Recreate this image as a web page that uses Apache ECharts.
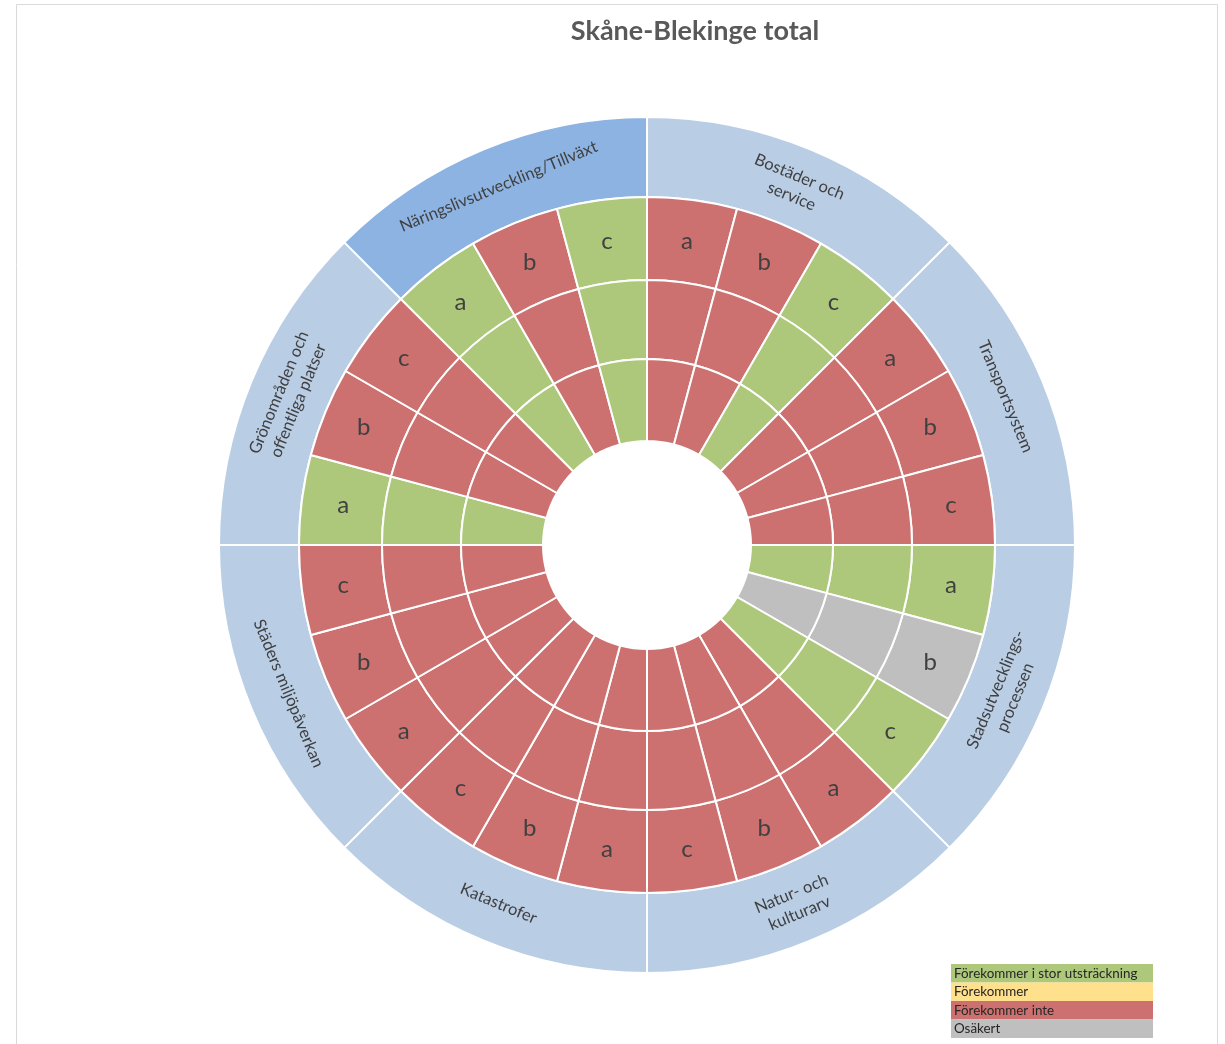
<!DOCTYPE html>
<html><head><meta charset="utf-8">
<script src="https://cdn.jsdelivr.net/npm/echarts@6/dist/echarts.min.js"></script>
<style>html,body{margin:0;padding:0;background:#fff}#c{width:1225px;height:1044px}</style>
</head><body><div id="c"></div>
<script>
// ---- data ----
var title = 'Skåne-Blekinge total';
var categories = ['Bostäder och\nservice', 'Transportsystem', 'Stadsutvecklings-\nprocessen', 'Natur- och\nkulturarv',
  'Katastrofer', 'Städers miljöpåverkan', 'Grönområden och\noffentliga platser', 'Näringslivsutveckling/Tillväxt'];
var highlighted = ['Näringslivsutveckling/Tillväxt'];
var subLabels = ['a', 'b', 'c'];
// status codes per category (a,b,c): G = stor utsträckning, Y = förekommer, R = förekommer inte, S = osäkert
var ringOuter  = [['R','R','G'],['R','R','R'],['G','S','G'],['R','R','R'],['R','R','R'],['R','R','R'],['G','R','R'],['G','R','G']];
var ringMiddle = [['R','R','G'],['R','R','R'],['G','S','G'],['R','R','R'],['R','R','R'],['R','R','R'],['G','R','R'],['G','R','G']];
var ringInner  = [['R','R','G'],['R','R','R'],['G','S','G'],['R','R','R'],['R','R','R'],['R','R','R'],['G','R','R'],['G','R','G']];
var legendCodes = ['G', 'Y', 'R', 'S'];
var legendLabels = ['Förekommer i stor utsträckning', 'Förekommer', 'Förekommer inte', 'Osäkert'];

// ---- styles ----
var statusColor = { G: '#ADC87A', Y: '#FFE08C', R: '#CD7170', S: '#BFBFBF' };
var catColor = '#B9CDE5', catHiColor = '#8DB3E2';
var FONT = 'Lato, "Open Sans", sans-serif';

var n = categories.length;
var data = categories.map(function (cat, i) {
  var mid = (i + 0.5) * 360 / n;              // clockwise from top
  var cw = mid <= 90 || mid >= 270 ? (mid >= 270 ? mid - 360 : mid) : mid - 180;
  return {
    name: cat,
    itemStyle: { color: highlighted.indexOf(cat) >= 0 ? catHiColor : catColor },
    label: { rotate: -cw },
    children: subLabels.map(function (s, j) {
      return {
        name: s,
        itemStyle: { color: statusColor[ringOuter[i][j]] },
        children: [{
          name: s + '2',
          itemStyle: { color: statusColor[ringMiddle[i][j]] },
          children: [{
            name: s + '3',
            value: 1,
            itemStyle: { color: statusColor[ringInner[i][j]] }
          }]
        }]
      };
    })
  };
});

var cx = 647, cy = 545;
var legendX = 951, legendY = 964, rowH = 18.5, legendW = 202;
var graphics = [{
  type: 'rect', shape: { x: 16.5, y: 4.5, width: 1201, height: 1100 },
  style: { fill: 'none', stroke: '#d9d9d9', lineWidth: 1 }, silent: true
}, {
  type: 'text', x: 695, y: 31,
  style: { text: title, fill: '#595959', font: 'bold 27px ' + FONT, textAlign: 'center', textVerticalAlign: 'middle' }
}];
legendCodes.forEach(function (c, k) {
  graphics.push({
    type: 'rect', shape: { x: legendX, y: legendY + k * rowH, width: legendW, height: rowH },
    style: { fill: statusColor[c] }
  });
  graphics.push({
    type: 'text', x: legendX + 3, y: legendY + k * rowH + rowH / 2,
    style: { text: legendLabels[k], fill: '#262626', font: '13.4px ' + FONT, textVerticalAlign: 'middle' }
  });
});

var chart = echarts.init(document.getElementById('c'), null, { renderer: 'canvas' });
chart.setOption({
  animation: false,
  graphic: graphics,
  series: [{
    type: 'sunburst',
    center: [cx, cy],
    radius: [104, 428],
    startAngle: 90,
    sort: null,
    nodeClick: false,
    emphasis: { focus: 'none' },
    itemStyle: { borderColor: '#fff', borderWidth: 2 },
    label: { fontFamily: FONT, color: '#404040' },
    data: data,
    levels: [
      {},
      { r0: 348, r: 428, label: { fontSize: 16.5, lineHeight: 21, color: '#404040' } },
      { r0: 265, r: 348, label: { rotate: 0, fontSize: 24, color: '#404040' } },
      { r0: 186, r: 265, label: { show: false } },
      { r0: 104, r: 186, label: { show: false } }
    ]
  }]
});
</script>
</body></html>
